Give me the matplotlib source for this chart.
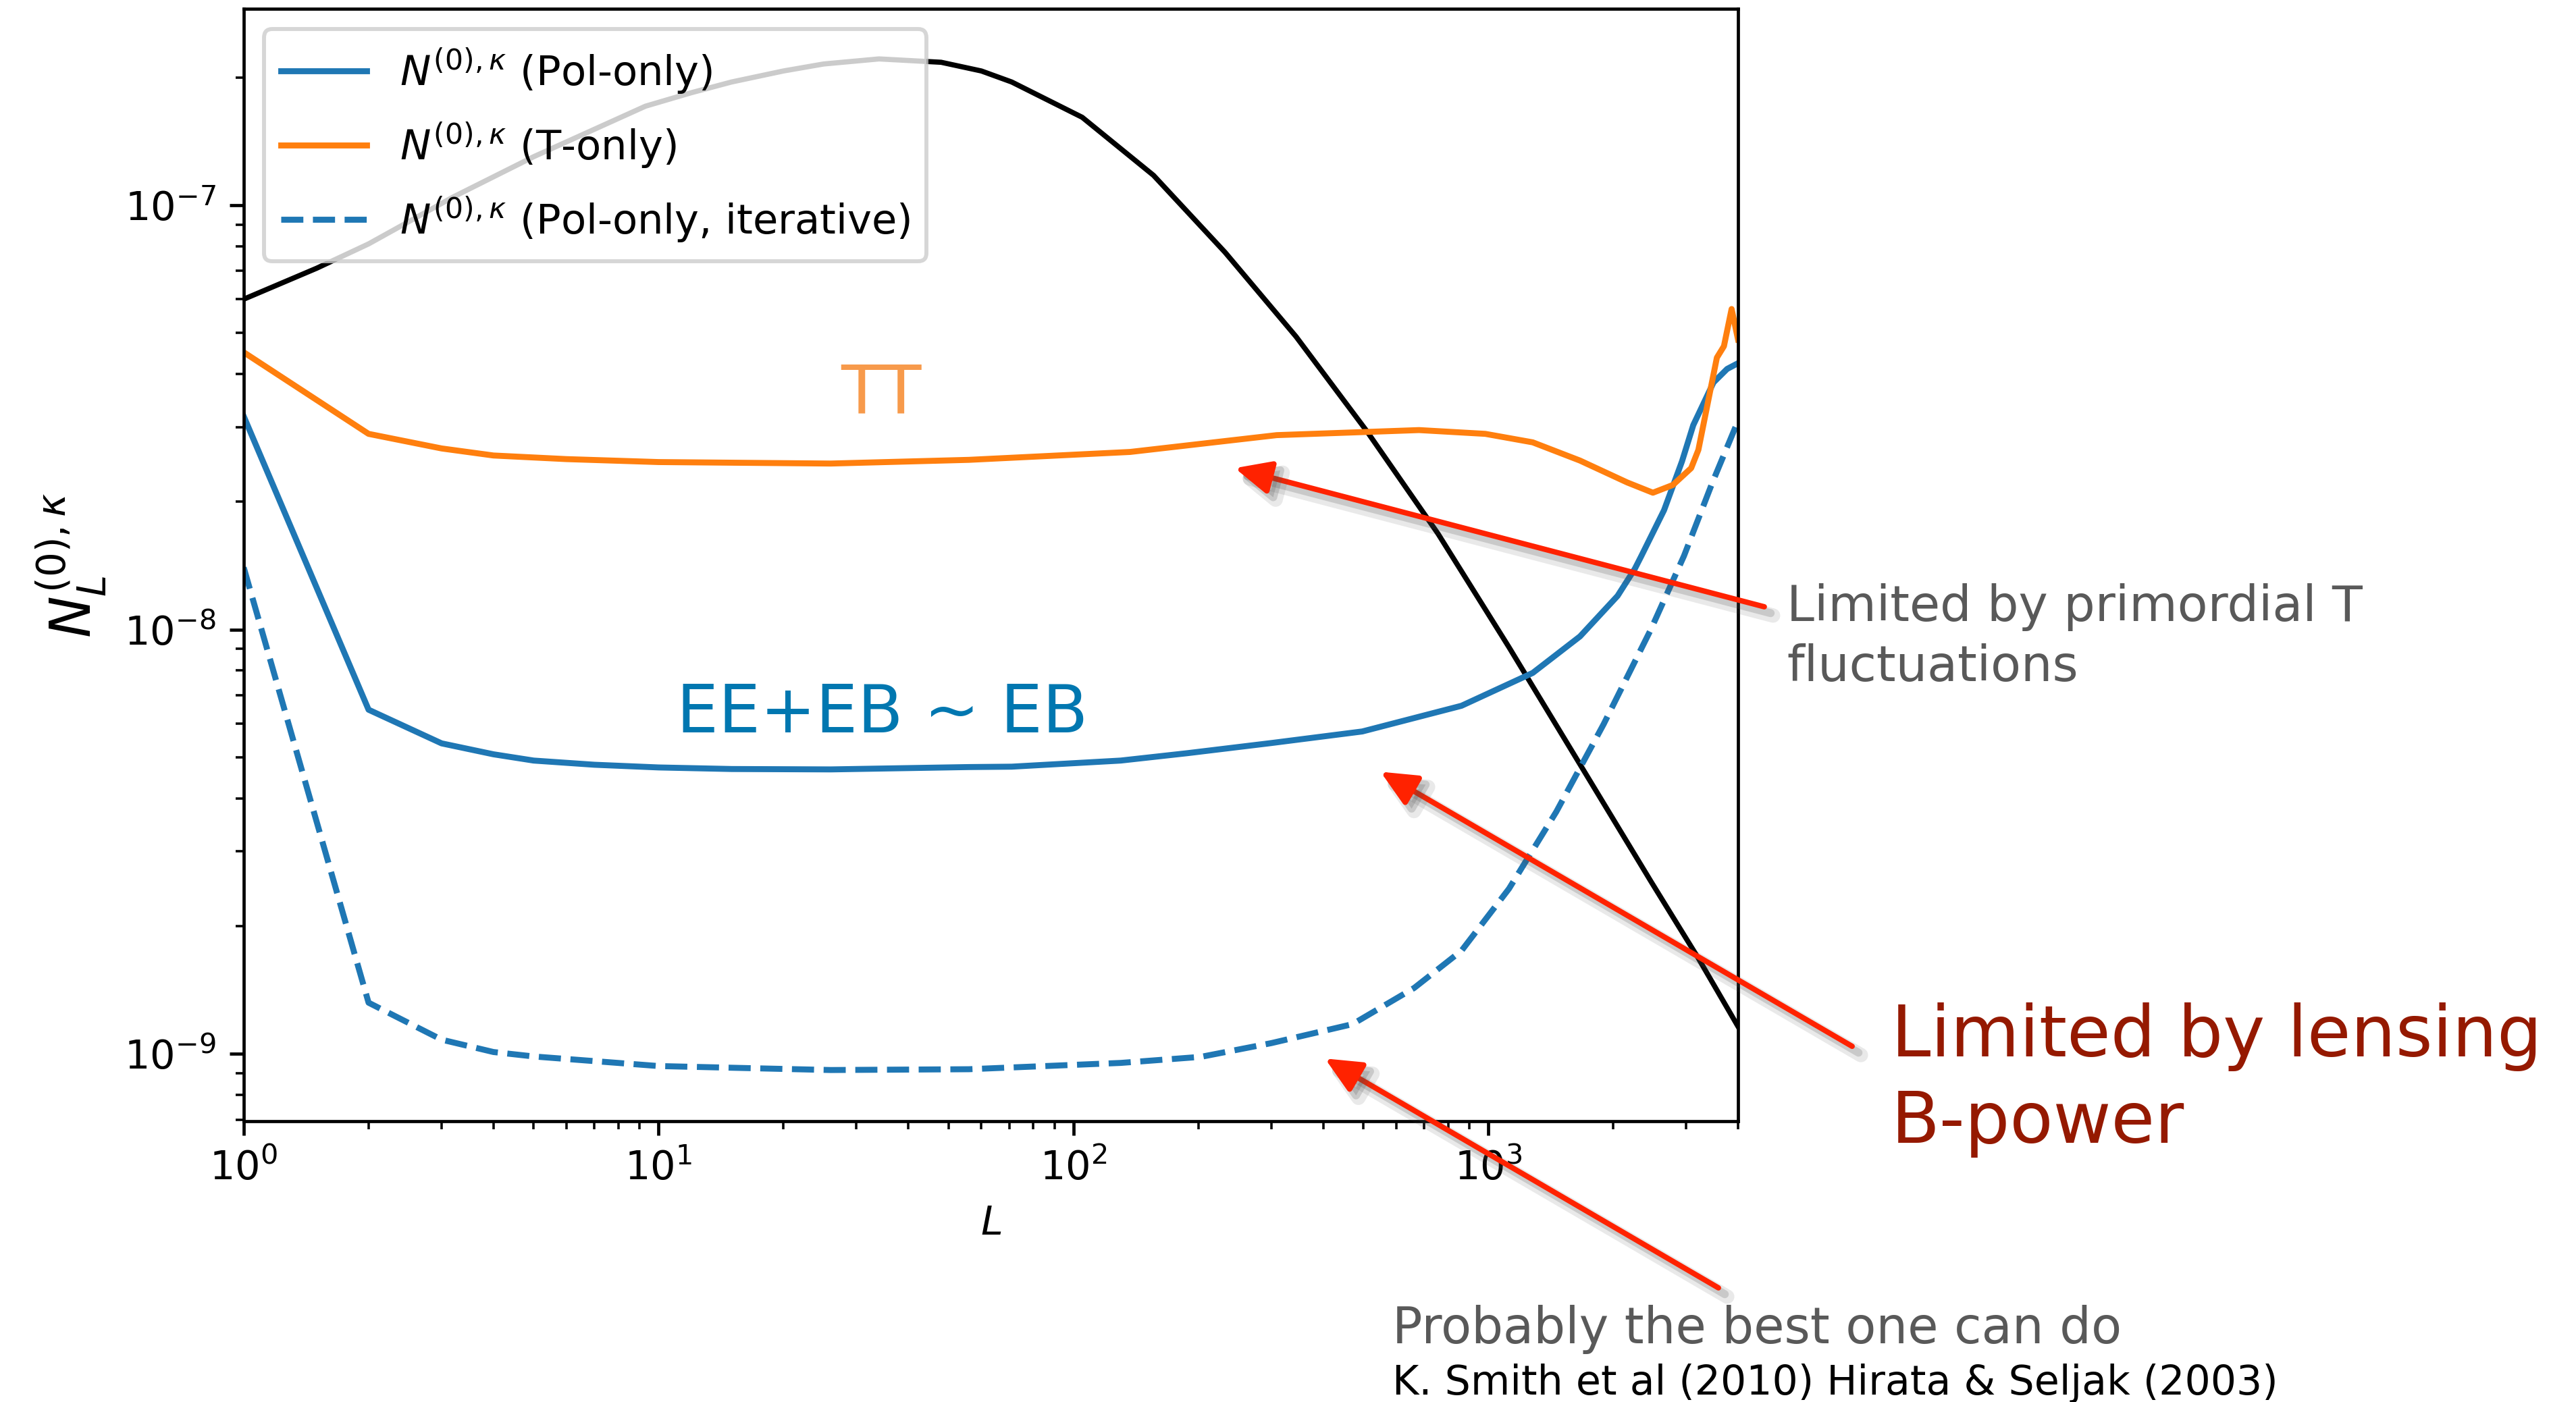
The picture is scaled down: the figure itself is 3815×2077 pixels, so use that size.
"""Quadratic-estimator lensing reconstruction noise, N0 for T-only and pol-only."""

import matplotlib
matplotlib.use("Agg")
import matplotlib.pyplot as plt
import matplotlib.patheffects as pe
from matplotlib.patches import ConnectionPatch

# lensing convergence power (black curve)
L_kk = [1, 1.5, 2, 3.2, 5, 9.3, 12, 15, 20, 25, 34, 48, 60, 71, 105, 156, 232,
        344, 510, 757, 1122, 1664, 2466, 3209, 4000]
cl_kk = [6.0e-8, 7.1e-8, 8.1e-8, 1.045e-7, 1.3e-7, 1.71e-7, 1.84e-7, 1.95e-7,
         2.07e-7, 2.15e-7, 2.21e-7, 2.17e-7, 2.07e-7, 1.95e-7, 1.61e-7, 1.175e-7,
         7.74e-8, 4.9e-8, 2.93e-8, 1.68e-8, 9.08e-9, 4.81e-9, 2.55e-9, 1.68e-9,
         1.16e-9]

# N0, polarisation only
L_pol = [1, 2, 3, 4, 5, 7, 10, 15, 26, 56, 71, 130, 188, 300, 497, 862, 1280,
         1664, 2050, 2256, 2339, 2653, 2931, 3120, 3491, 3765, 4000]
n0_pol = [3.18e-8, 6.47e-9, 5.39e-9, 5.08e-9, 4.91e-9, 4.8e-9, 4.73e-9, 4.69e-9,
          4.68e-9, 4.74e-9, 4.75e-9, 4.91e-9, 5.11e-9, 5.4e-9, 5.75e-9, 6.61e-9,
          7.9e-9, 9.63e-9, 1.2e-8, 1.39e-8, 1.49e-8, 1.91e-8, 2.49e-8, 3.03e-8,
          3.82e-8, 4.11e-8, 4.24e-8]

# N0, temperature only
L_tt = [1, 2, 3, 4, 6, 10, 26, 56, 137, 309, 681, 984, 1280, 1664, 2163, 2494,
        2786, 3084, 3210, 3557, 3699, 3860, 4000]
n0_tt = [4.5e-8, 2.89e-8, 2.67e-8, 2.57e-8, 2.52e-8, 2.48e-8, 2.46e-8, 2.51e-8,
         2.62e-8, 2.87e-8, 2.95e-8, 2.89e-8, 2.76e-8, 2.5e-8, 2.22e-8, 2.1e-8,
         2.19e-8, 2.4e-8, 2.65e-8, 4.37e-8, 4.65e-8, 5.69e-8, 4.82e-8]

# N0, polarisation only, iterative delensing
L_it = [1, 2, 3, 4, 5, 10, 26, 56, 130, 203, 300, 471, 663, 862, 1122, 1459,
        1897, 2466, 2963, 3470, 4000]
n0_it = [1.40e-8, 1.32e-9, 1.08e-9, 1.01e-9, 9.86e-10, 9.36e-10, 9.16e-10,
         9.2e-10, 9.52e-10, 9.84e-10, 1.06e-9, 1.175e-9, 1.43e-9, 1.75e-9,
         2.45e-9, 3.72e-9, 5.98e-9, 1.0e-8, 1.49e-8, 2.22e-8, 3.10e-8]

labels = [r"$N^{(0),\kappa}$ (Pol-only)",
          r"$N^{(0),\kappa}$ (T-only)",
          r"$N^{(0),\kappa}$ (Pol-only, iterative)"]

# arrow tips (data) and tails (figure fraction)
arrow_tips = [(245, 2.4e-8), (550, 4.62e-9), (404, 9.75e-10)]
arrow_tails = [(0.6849, 0.5672), (0.7190, 0.2537), (0.6671, 0.0814)]

fig = plt.figure(figsize=(3815 / 425, 2077 / 425), dpi=425)
ax = fig.add_axes([0.0946, 0.2003, 0.5801, 0.7934])

ax.loglog(L_kk, cl_kk, color="k", lw=1.3)
ax.loglog(L_pol, n0_pol, color="C0", label=labels[0])
ax.loglog(L_tt, n0_tt, color="C1", label=labels[1])
ax.loglog(L_it, n0_it, color="C0", ls="--", label=labels[2])

ax.set_xlim(1, 4000)
ax.set_ylim(6.94e-10, 2.9e-7)
ax.set_xlabel(r"$L$")
ax.set_ylabel(r"$N_L^{(0),\kappa}$", fontsize=14)
ax.legend(loc="upper left", fontsize=10.3, labelspacing=0.6,
          handlelength=2.1, borderpad=0.4)

ax.text(0.4266, 0.6365, "TT", transform=ax.transAxes, ha="center",
        va="baseline", color="#f79a4b", fontsize=16.8)
ax.text(0.4275, 0.3495, "EE+EB ~ EB", transform=ax.transAxes, ha="center",
        va="baseline", color="#0077b0", fontsize=16.6)

shadow = [pe.SimpleLineShadow(offset=(2.2, -2.2), shadow_color="0.3", alpha=0.12,
                              linewidth=3.6),
          pe.SimplePatchShadow(offset=(1.6, -1.6), shadow_rgbFace="0.3", alpha=0.2),
          pe.SimpleLineShadow(offset=(1.6, -1.6), shadow_color="0.3", alpha=0.2,
                              linewidth=2.0),
          pe.Normal()]
for tip, tail in zip(arrow_tips, arrow_tails):
    arrow = ConnectionPatch(xyA=tail, coordsA="figure fraction", xyB=tip,
                            coordsB="data", axesA=ax, axesB=ax,
                            arrowstyle="-|>,head_length=0.76,head_width=0.35",
                            color="#ff2200", lw=1.35, path_effects=shadow)
    arrow.set_clip_on(False)
    fig.add_artist(arrow)

grey = "#595959"
fig.text(0.6936, 0.5571, "Limited by primordial T", color=grey, fontsize=12.45,
         va="baseline")
fig.text(0.6936, 0.5142, "fluctuations", color=grey, fontsize=12.45, va="baseline")
fig.text(0.7342, 0.2465, "Limited by lensing", color="#951900", fontsize=17.8,
         va="baseline")
fig.text(0.7342, 0.1849, "B-power", color="#951900", fontsize=17.8, va="baseline")
fig.text(0.5405, 0.0419, "Probably the best one can do", color=grey, fontsize=12.5,
         va="baseline")
fig.text(0.5405, 0.0053, "K. Smith et al (2010) Hirata & Seljak (2003)", color="k",
         fontsize=10.2, va="baseline")

fig.savefig("out.png", dpi=425)
